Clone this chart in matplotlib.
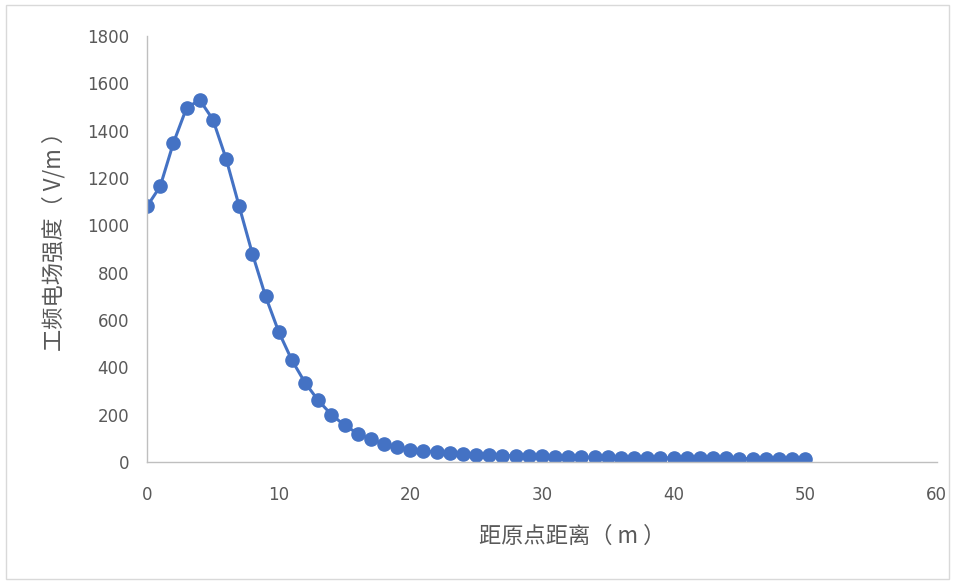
import matplotlib.pyplot as plt
from matplotlib.patches import Rectangle

plt.rcParams['font.family'] = ['Noto Sans CJK SC', 'DejaVu Sans']

distance = list(range(0, 51))
field = [1080, 1165, 1348, 1496, 1530, 1447, 1282, 1080, 880, 700,
         550, 430, 335, 260, 200, 155, 120, 95, 76, 62,
         52, 46, 41, 37, 34, 31, 29, 27, 26, 24,
         23, 22, 21, 20, 19.5, 19, 18.5, 18, 17.5, 17,
         16.5, 16, 15.5, 15, 14.5, 14, 13.8, 13.5, 13.2, 13, 12.8]

xticks = [0, 10, 20, 30, 40, 50, 60]
yticks = [0, 200, 400, 600, 800, 1000, 1200, 1400, 1600, 1800]

fig = plt.figure(figsize=(9.55, 5.81), dpi=100)
fig.patches.append(Rectangle((0.006, 0.004), 0.988, 0.988, transform=fig.transFigure,
                             fill=False, edgecolor='#d9d9d9', linewidth=1))
ax = fig.add_axes([0.154, 0.205, 0.827, 0.733])

ax.plot(distance, field, '-o', color='#4472C4', linewidth=2.2, markersize=9.5)

ax.set_xlim(0, 60)
ax.set_ylim(0, 1800)
ax.set_xticks(xticks)
ax.set_yticks(yticks)
ax.tick_params(axis='y', length=0, labelsize=12, colors='#595959', pad=13)
ax.tick_params(axis='x', length=0, labelsize=12, colors='#595959', pad=17)
for lab in ax.get_xticklabels() + ax.get_yticklabels():
    lab.set_family('DejaVu Sans')

for s in ['top', 'right']:
    ax.spines[s].set_visible(False)
for s in ['left', 'bottom']:
    ax.spines[s].set_color('#bfbfbf')
    ax.spines[s].set_linewidth(1)

ax.set_xlabel('距原点距离（ m ）', fontsize=16, color='#595959')
ax.set_ylabel('工频电场强度（ V/m ）', fontsize=16, color='#595959')
ax.xaxis.set_label_coords(0.538, -0.148)
ax.yaxis.set_label_coords(-0.103, 0.53)

plt.savefig('out.png', dpi=100)
